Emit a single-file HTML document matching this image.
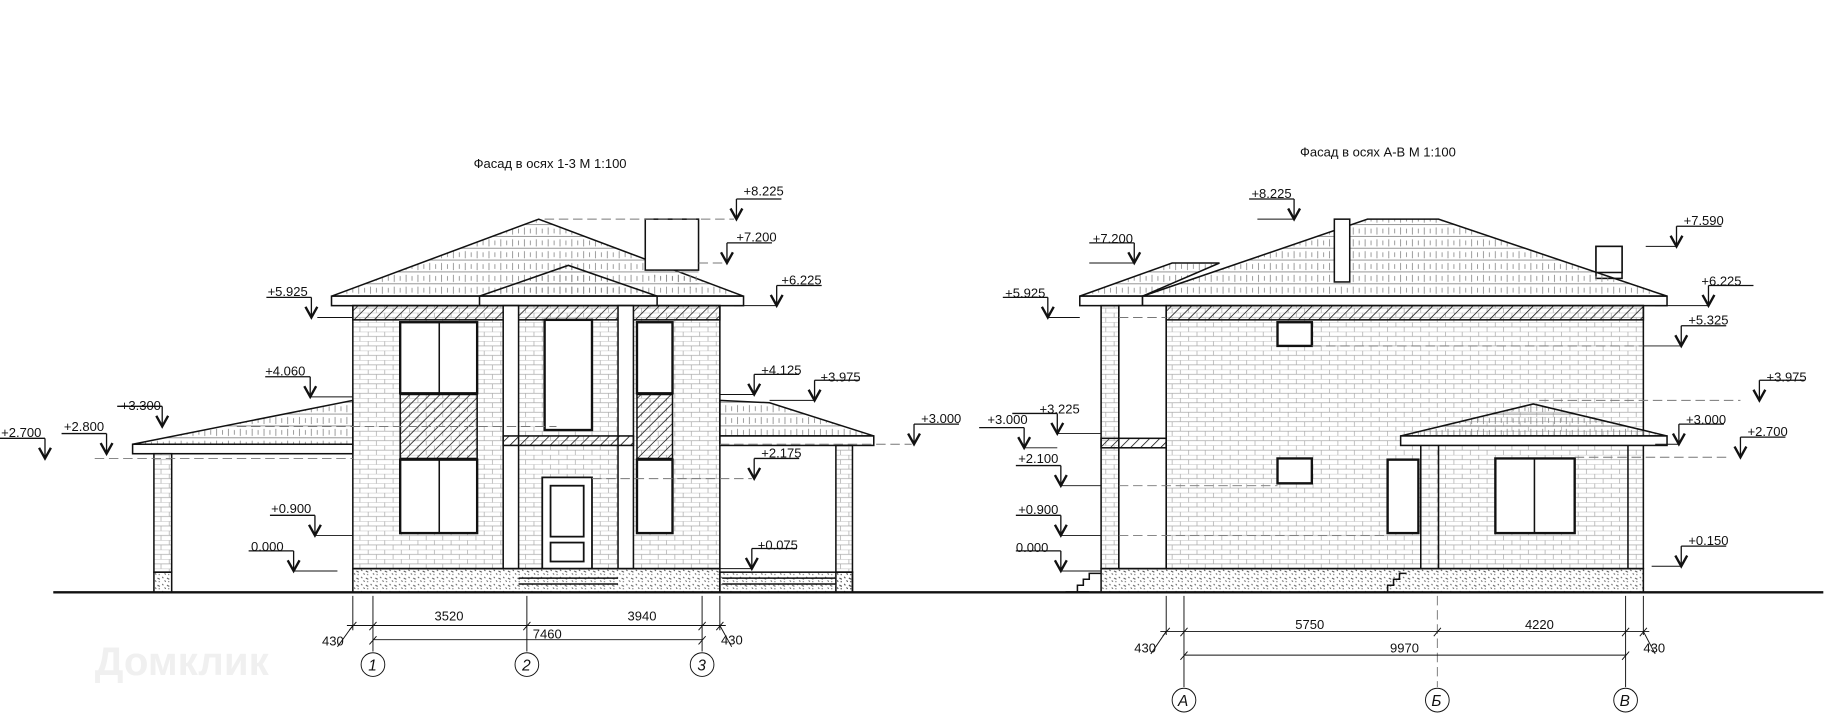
<!DOCTYPE html>
<html><head><meta charset="utf-8"><style>
html,body{margin:0;padding:0;background:#fff;}
svg{display:block;}
text{font-family:"Liberation Sans",sans-serif;font-size:11px;fill:#111;}
</style></head><body>
<svg width="1847" height="725" viewBox="0 0 1560 612" preserveAspectRatio="none" xmlns="http://www.w3.org/2000/svg">
<defs>
<pattern id="brick" width="14" height="8" patternUnits="userSpaceOnUse">
<path d="M0,0H14M0,4H14M3,0V4M10,4V8" stroke="#aaa" stroke-width="0.6" fill="none"/>
</pattern>
<pattern id="hatch" width="6" height="6" patternUnits="userSpaceOnUse" patternTransform="rotate(45)">
<path d="M0,0V6" stroke="#111" stroke-width="1.3"/>
</pattern>
<pattern id="shingle" width="10" height="10" patternUnits="userSpaceOnUse">
<path d="M0,9.5H10M3,2V8M8,3V7" stroke="#888" stroke-width="0.7" fill="none"/>
</pattern>
<pattern id="plinth" width="8" height="6" patternUnits="userSpaceOnUse">
<path d="M1,1l1,1M5,2l2,1M3,4l1,1M6,5l1,0" stroke="#555" stroke-width="0.8"/>
</pattern>
<g id="lvR"><path d="M0,-17V0M0,-17H38" stroke="#111" stroke-width="1.1" fill="none"/><path d="M-5,-9L0,0L5,-9" stroke="#111" stroke-width="2" fill="none"/></g>
<g id="lvL"><path d="M0,-17V0M0,-17H-38" stroke="#111" stroke-width="1.1" fill="none"/><path d="M-5,-9L0,0L5,-9" stroke="#111" stroke-width="2" fill="none"/></g>
</defs>

<text x="80" y="570" style="font-size:34px;fill:#f0f0f0;font-weight:bold">Домклик</text>

<!-- ================= LEFT FACADE ================= -->
<text x="400" y="142">Фасад в осях 1-3 М 1:100</text>
<g stroke="#111" stroke-width="1.3" fill="none">
<polygon points="280,250 455,185 628,250" fill="url(#shingle)"/>
<rect x="545" y="185" width="45" height="43" fill="#fff"/>
<polygon points="545,228 590,228 590,245 545,232" fill="url(#shingle)" stroke="none"/>
<polygon points="405,250 480,224 555,250" fill="url(#shingle)"/>
<rect x="280" y="250" width="348" height="8" fill="#fff"/>
<line x1="405" y1="250" x2="405" y2="258"/><line x1="555" y1="250" x2="555" y2="258"/>
<polygon points="112,375 298,338 298,375" fill="url(#shingle)"/>
<rect x="112" y="375" width="186" height="8" fill="#fff"/>
<polygon points="608,338 650,340 738,368 608,368" fill="url(#shingle)"/>
<rect x="608" y="368" width="130" height="8" fill="#fff"/>
<rect x="130" y="383" width="15" height="100" fill="url(#brick)"/>
<rect x="130" y="483" width="15" height="17" fill="url(#plinth)"/>
<rect x="706" y="376" width="14" height="107" fill="url(#brick)"/>
<rect x="706" y="483" width="14" height="17" fill="url(#plinth)"/>
<rect x="298" y="258" width="310" height="222" fill="url(#brick)"/>
<rect x="298" y="258" width="310" height="12" fill="url(#hatch)"/>
<rect x="425" y="258" width="13" height="222" fill="#fff"/>
<rect x="522" y="258" width="13" height="222" fill="#fff"/>
<rect x="298" y="480" width="310" height="20" fill="url(#plinth)"/>
<rect x="608" y="483" width="112" height="17" fill="url(#plinth)"/>
<path d="M438,488H522M438,493H522M610,488H706M610,493H706"/>
<rect x="338" y="272" width="65" height="60" fill="#fff" stroke-width="2"/><line x1="371" y1="272" x2="371" y2="332"/>
<rect x="338" y="333" width="65" height="54" fill="url(#hatch)"/>
<rect x="338" y="388" width="65" height="62" fill="#fff" stroke-width="2"/><line x1="371" y1="388" x2="371" y2="450"/>
<rect x="460" y="270" width="40" height="93" fill="#fff" stroke-width="2"/>
<rect x="425" y="368" width="110" height="8" fill="url(#hatch)"/>
<rect x="458" y="403" width="42" height="77" fill="#fff" stroke-width="1.5"/>
<rect x="465" y="410" width="28" height="43" stroke-width="1.5"/>
<rect x="465" y="458" width="28" height="16" stroke-width="1.5"/>
<rect x="538" y="272" width="30" height="60" fill="#fff" stroke-width="2"/>
<rect x="538" y="333" width="30" height="54" fill="url(#hatch)"/>
<rect x="538" y="388" width="30" height="62" fill="#fff" stroke-width="2"/>
</g>
<line x1="45" y1="500" x2="920" y2="500" stroke="#111" stroke-width="2"/>
<g stroke="#777" stroke-width="0.8" stroke-dasharray="8,4">
<line x1="460" y1="185" x2="620" y2="185"/>
<line x1="590" y1="222" x2="612" y2="222"/>
<line x1="80" y1="387" x2="298" y2="387"/>
<line x1="200" y1="360" x2="470" y2="360"/>
<line x1="608" y1="375" x2="770" y2="375"/>
<line x1="500" y1="404" x2="635" y2="404"/>
</g>
<g stroke="#111" stroke-width="0.8">
<line x1="620" y1="258" x2="656" y2="258"/><line x1="268" y1="268" x2="298" y2="268"/>
<line x1="262" y1="335" x2="298" y2="335"/><line x1="608" y1="333" x2="637" y2="333"/>
<line x1="650" y1="338" x2="688" y2="338"/><line x1="266" y1="452" x2="298" y2="452"/>
<line x1="248" y1="482" x2="285" y2="482"/><line x1="608" y1="480" x2="635" y2="480"/>
</g>
<use href="#lvR" x="622" y="185"/><text x="628" y="165">+8.225</text>
<use href="#lvR" x="614" y="222"/><text x="622" y="204">+7.200</text>
<use href="#lvR" x="656" y="258"/><text x="660" y="240">+6.225</text>
<use href="#lvL" x="263" y="268"/><text x="226" y="250">+5.925</text>
<use href="#lvL" x="262" y="335"/><text x="224" y="317">+4.060</text>
<use href="#lvL" x="137" y="360"/><text x="102" y="346">+3.300</text>
<use href="#lvL" x="90" y="383"/><text x="54" y="364">+2.800</text>
<use href="#lvL" x="38" y="387"/><text x="1" y="369">+2.700</text>
<use href="#lvR" x="637" y="333"/><text x="643" y="316">+4.125</text>
<use href="#lvR" x="688" y="338"/><text x="693" y="322">+3.975</text>
<use href="#lvR" x="772" y="375"/><text x="778" y="357">+3.000</text>
<use href="#lvR" x="637" y="404"/><text x="643" y="386">+2.175</text>
<use href="#lvL" x="266" y="452"/><text x="229" y="433">+0.900</text>
<use href="#lvL" x="248" y="482"/><text x="212" y="465">0.000</text>
<use href="#lvR" x="635" y="480"/><text x="640" y="464">+0.075</text>
<g stroke="#111" stroke-width="0.8" fill="none">
<path d="M298,503V532M315,503V550M445,503V550M593,503V550M608,503V532"/>
<path d="M293,528H613M315,540H593"/>
<path d="M295,532l6,-7M312,532l6,-7M442,532l6,-7M590,532l6,-7M605,532l6,-7M312,544l6,-7M590,544l6,-7"/>
<path d="M298,528L285,546M608,528L618,546"/>
<circle cx="315" cy="561" r="10"/><circle cx="445" cy="561" r="10"/><circle cx="593" cy="561" r="10"/>
</g>
<text x="367" y="524">3520</text><text x="530" y="524">3940</text><text x="450" y="539">7460</text>
<text x="272" y="545">430</text><text x="609" y="544">430</text>
<text x="311" y="566" style="font-style:italic;font-size:13px">1</text>
<text x="441" y="566" style="font-style:italic;font-size:13px">2</text>
<text x="589" y="566" style="font-style:italic;font-size:13px">3</text>

<!-- ================= RIGHT FACADE ================= -->
<text x="1098" y="132">Фасад в осях А-В М 1:100</text>
<g stroke="#111" stroke-width="1.3" fill="none">
<polygon points="912,250 990,222 1030,222 965,250" fill="url(#shingle)"/>
<rect x="1348" y="208" width="22" height="27" fill="#fff"/>
<polygon points="965,250 1155,185 1215,185 1408,250" fill="url(#shingle)"/>
<rect x="1348" y="208" width="22" height="22" fill="#fff"/>
<rect x="912" y="250" width="53" height="8" fill="#fff"/>
<rect x="965" y="250" width="443" height="8" fill="#fff"/>
<rect x="1127" y="185" width="13" height="53" fill="#fff"/>
<rect x="930" y="258" width="15" height="222" fill="url(#brick)"/>
<rect x="945" y="258" width="40" height="222" fill="#fff"/>
<rect x="985" y="258" width="403" height="222" fill="url(#brick)"/>
<rect x="985" y="258" width="403" height="12" fill="url(#hatch)"/>
<rect x="930" y="370" width="55" height="8" fill="url(#hatch)"/>
<rect x="930" y="480" width="458" height="20" fill="url(#plinth)"/>
<path d="M910,500V494H915V489H920V484H930M1172,500V494H1177V489H1182V484H1188"/>
<polygon points="1183,368 1295,341 1408,368" fill="url(#shingle)"/>
<rect x="1183" y="368" width="225" height="8" fill="#fff"/>
<path d="M1200,376V480M1215,376V480M1375,376V480"/>
<rect x="1079" y="272" width="29" height="20" fill="#fff" stroke-width="2"/>
<rect x="1079" y="387" width="29" height="21" fill="#fff" stroke-width="2"/>
<rect x="1172" y="388" width="26" height="62" fill="#fff" stroke-width="2"/>
<rect x="1263" y="387" width="67" height="63" fill="#fff" stroke-width="2"/><line x1="1296" y1="387" x2="1296" y2="450"/>
</g>
<line x1="900" y1="500" x2="1540" y2="500" stroke="#111" stroke-width="2"/>
<g stroke="#777" stroke-width="0.8" stroke-dasharray="8,4">
<line x1="945" y1="268" x2="985" y2="268"/>
<line x1="1108" y1="292" x2="1388" y2="292"/>
<line x1="1300" y1="338" x2="1470" y2="338"/>
<line x1="945" y1="410" x2="1079" y2="410"/>
<line x1="945" y1="452" x2="1172" y2="452"/>
<line x1="1330" y1="386" x2="1460" y2="386"/>
<line x1="1214" y1="503" x2="1214" y2="580"/>
</g>
<g stroke="#111" stroke-width="0.8">
<line x1="1062" y1="185" x2="1093" y2="185"/><line x1="920" y1="222" x2="958" y2="222"/>
<line x1="885" y1="268" x2="912" y2="268"/><line x1="1390" y1="208" x2="1416" y2="208"/>
<line x1="1398" y1="258" x2="1443" y2="258"/><line x1="1388" y1="292" x2="1420" y2="292"/>
<line x1="1398" y1="375" x2="1418" y2="375"/><line x1="865" y1="378" x2="893" y2="378"/>
<line x1="893" y1="366" x2="930" y2="366"/><line x1="1395" y1="478" x2="1420" y2="478"/>
<line x1="896" y1="482" x2="930" y2="482"/><line x1="896" y1="452" x2="930" y2="452"/>
<line x1="896" y1="410" x2="930" y2="410"/>
</g>
<use href="#lvL" x="1093" y="185"/><text x="1057" y="167">+8.225</text>
<use href="#lvL" x="958" y="222"/><text x="923" y="205">+7.200</text>
<use href="#lvL" x="885" y="268"/><text x="849" y="251">+5.925</text>
<use href="#lvR" x="1416" y="208"/><text x="1422" y="190">+7.590</text>
<use href="#lvR" x="1443" y="258"/><text x="1437" y="241">+6.225</text>
<use href="#lvR" x="1420" y="292"/><text x="1426" y="274">+5.325</text>
<use href="#lvR" x="1486" y="338"/><text x="1492" y="322">+3.975</text>
<use href="#lvR" x="1418" y="375"/><text x="1424" y="358">+3.000</text>
<use href="#lvR" x="1470" y="386"/><text x="1476" y="368">+2.700</text>
<use href="#lvR" x="1420" y="478"/><text x="1426" y="460">+0.150</text>
<use href="#lvL" x="865" y="378"/><text x="834" y="358">+3.000</text>
<use href="#lvL" x="893" y="366"/><text x="878" y="349">+3.225</text>
<use href="#lvL" x="896" y="410"/><text x="860" y="391">+2.100</text>
<use href="#lvL" x="896" y="452"/><text x="860" y="434">+0.900</text>
<use href="#lvL" x="896" y="482"/><text x="858" y="466">0.000</text>
<g stroke="#111" stroke-width="0.8" fill="none">
<path d="M985,503V536M1000,503V580M1373,503V580M1388,503V536"/>
<path d="M980,533H1393M1000,553H1373"/>
<path d="M982,537l6,-7M997,537l6,-7M1211,537l6,-7M1370,537l6,-7M1385,537l6,-7M997,557l6,-7M1370,557l6,-7"/>
<path d="M985,533L972,552M1388,533L1398,552"/>
<circle cx="1000" cy="591" r="10"/><circle cx="1214" cy="591" r="10"/><circle cx="1373" cy="591" r="10"/>
</g>
<text x="1094" y="531">5750</text><text x="1288" y="531">4220</text><text x="1174" y="551">9970</text>
<text x="958" y="551">430</text><text x="1388" y="551">430</text>
<text x="995" y="596" style="font-style:italic;font-size:13px">А</text>
<text x="1209" y="596" style="font-style:italic;font-size:13px">Б</text>
<text x="1368" y="596" style="font-style:italic;font-size:13px">В</text>
</svg>
</body></html>
